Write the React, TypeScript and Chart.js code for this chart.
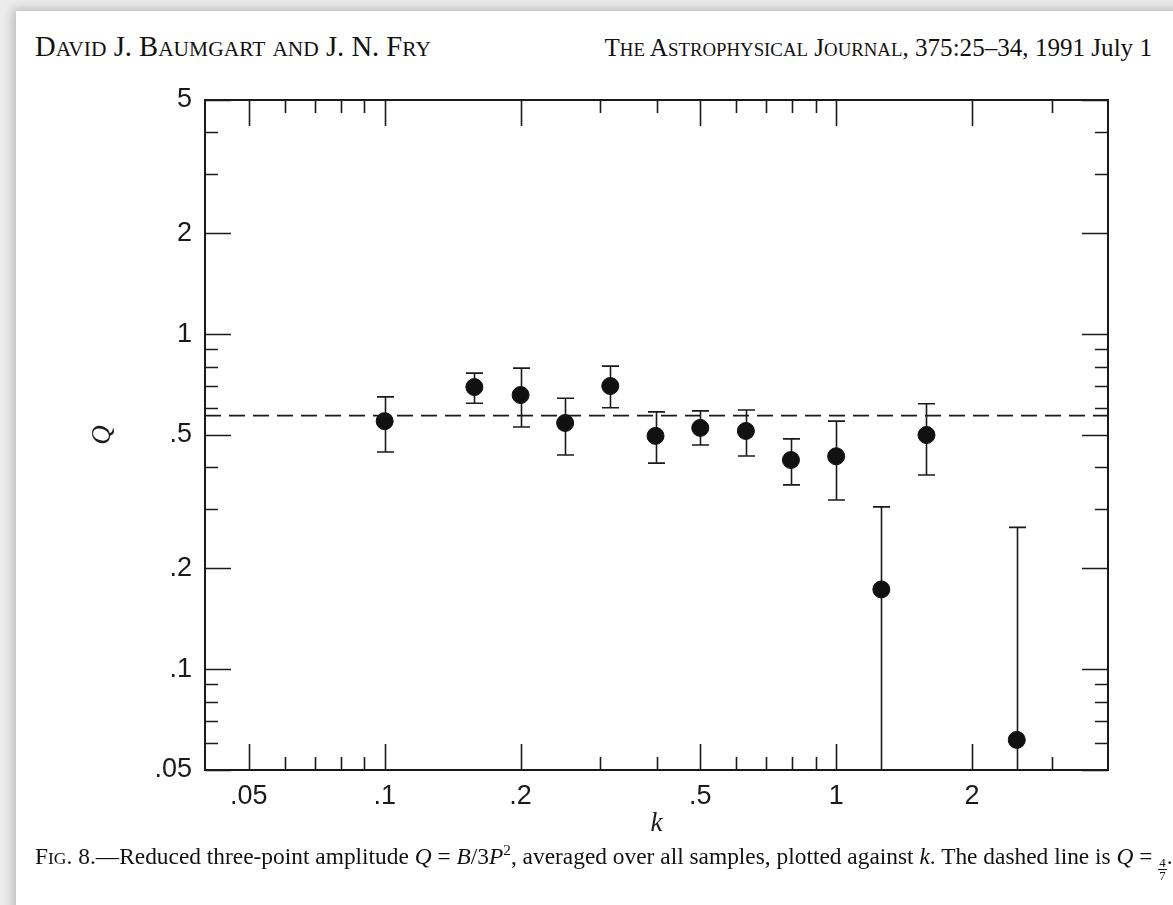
import React, { useEffect, useRef } from 'react';
import { Chart, registerables } from 'chart.js';

Chart.register(...registerables);

// ---- data ----
const kValues = [0.1, 0.158, 0.2, 0.251, 0.316, 0.398, 0.5, 0.631, 0.794, 1.0, 1.259, 1.585, 2.512];
const qValues = [0.55, 0.695, 0.658, 0.543, 0.7, 0.497, 0.525, 0.514, 0.421, 0.432, 0.173, 0.5, 0.0615];
const qUpper = [0.65, 0.765, 0.792, 0.644, 0.803, 0.586, 0.59, 0.594, 0.487, 0.55, 0.305, 0.62, 0.265];
const qLower = [0.445, 0.622, 0.528, 0.436, 0.603, 0.412, 0.467, 0.433, 0.355, 0.32, 0.041, 0.38, 0.01];
const qReference = 4 / 7;

const xTickValues = [0.05, 0.06, 0.07, 0.08, 0.09, 0.1, 0.2, 0.3, 0.4, 0.5, 0.6, 0.7, 0.8, 0.9, 1, 2, 3];
const xTickLabels = ['.05', '', '', '', '', '.1', '.2', '', '', '.5', '', '', '', '', '1', '2', ''];
const yTickValues = [0.05, 0.06, 0.07, 0.08, 0.09, 0.1, 0.2, 0.3, 0.4, 0.5, 0.6, 0.7, 0.8, 0.9, 1, 2, 3, 4, 5];
const yTickLabels = ['.05', '', '', '', '', '.1', '.2', '', '', '.5', '', '', '', '', '1', '2', '', '', '5'];
const xRange = [0.04, 4];
const yRange = [0.05, 5];

const INK = '#1a1a1a';
const TICK_FONT = { family: '"Liberation Sans", Arial, sans-serif', size: 27 };

const framePlugin = {
  id: 'frameTicks',
  afterDraw(chart: any) {
    const { ctx, chartArea: a, scales } = chart;
    const xs = scales.x;
    const ys = scales.y;
    ctx.save();
    ctx.strokeStyle = INK;
    ctx.lineWidth = 1.6;
    ctx.beginPath();
    xs.ticks.forEach((t: any, i: number) => {
      const px = Math.round(xs.getPixelForValue(t.value)) + 0.5;
      const len = xTickLabels[i] !== '' ? 26 : 13;
      ctx.moveTo(px, a.bottom);
      ctx.lineTo(px, a.bottom - len);
      ctx.moveTo(px, a.top);
      ctx.lineTo(px, a.top + len);
    });
    ys.ticks.forEach((t: any, i: number) => {
      const py = Math.round(ys.getPixelForValue(t.value)) + 0.5;
      const len = yTickLabels[i] !== '' ? 26 : 13;
      ctx.moveTo(a.left, py);
      ctx.lineTo(a.left + len, py);
      ctx.moveTo(a.right, py);
      ctx.lineTo(a.right - len, py);
    });
    ctx.stroke();
    ctx.lineWidth = 2;
    ctx.strokeRect(a.left, a.top, a.right - a.left, a.bottom - a.top);
    ctx.restore();
  },
};

const errorBarPlugin = {
  id: 'errorBars',
  beforeDatasetsDraw(chart: any) {
    const { ctx, chartArea: a, scales } = chart;
    const xs = scales.x;
    const ys = scales.y;
    ctx.save();
    ctx.beginPath();
    ctx.rect(a.left, a.top, a.right - a.left, a.bottom - a.top);
    ctx.clip();
    ctx.strokeStyle = INK;
    ctx.lineWidth = 1.6;
    const cap = 8.5;
    kValues.forEach((k, i) => {
      const px = Math.round(xs.getPixelForValue(k)) + 0.5;
      const top = ys.getPixelForValue(qUpper[i]);
      const bot = ys.getPixelForValue(qLower[i]);
      ctx.beginPath();
      ctx.moveTo(px, top);
      ctx.lineTo(px, bot);
      ctx.moveTo(px - cap, top);
      ctx.lineTo(px + cap, top);
      ctx.moveTo(px - cap, bot);
      ctx.lineTo(px + cap, bot);
      ctx.stroke();
    });
    ctx.restore();
  },
};

function QChart() {
  const ref = useRef<HTMLCanvasElement | null>(null);
  useEffect(() => {
    if (!ref.current) return;
    const chart = new Chart(ref.current, {
      type: 'scatter',
      data: {
        datasets: [
          {
            type: 'line',
            data: [
              { x: xRange[0], y: qReference },
              { x: xRange[1], y: qReference },
            ],
            borderColor: INK,
            borderWidth: 1.8,
            borderDash: [16, 8],
            pointRadius: 0,
            fill: false,
          } as any,
          {
            type: 'scatter',
            data: kValues.map((k, i) => ({ x: k, y: qValues[i] })),
            pointRadius: 8.5,
            pointBackgroundColor: '#111',
            pointBorderColor: '#111',
            pointBorderWidth: 1,
          } as any,
        ],
      },
      options: {
        responsive: false,
        animation: false,
        devicePixelRatio: 1,
        layout: { padding: { left: 65, right: 65, top: 100, bottom: 65 } },
        plugins: { legend: { display: false }, tooltip: { enabled: false } },
        scales: {
          x: {
            type: 'logarithmic',
            position: 'bottom',
            min: xRange[0],
            max: xRange[1],
            afterBuildTicks: (s: any) => {
              s.ticks = xTickValues.map((v) => ({ value: v }));
            },
            afterFit: (s: any) => {
              s.height = 70;
            },
            grid: { display: false, drawTicks: false },
            border: { display: false },
            ticks: {
              autoSkip: false,
              maxRotation: 0,
              padding: 10,
              color: '#1a1a1a',
              font: TICK_FONT,
              callback: (_v: any, i: number) => xTickLabels[i],
            },
            title: {
              display: true,
              text: 'k',
              color: INK,
              font: { family: '"Liberation Serif", serif', style: 'italic', size: 27 },
              padding: { top: 0, bottom: 0 },
            },
          },
          y: {
            type: 'logarithmic',
            position: 'left',
            min: yRange[0],
            max: yRange[1],
            afterBuildTicks: (s: any) => {
              s.ticks = yTickValues.map((v) => ({ value: v }));
            },
            afterFit: (s: any) => {
              s.width = 140;
            },
            grid: { display: false, drawTicks: false },
            border: { display: false },
            ticks: {
              autoSkip: false,
              padding: 13,
              color: '#1a1a1a',
              font: TICK_FONT,
              callback: (_v: any, i: number) => yTickLabels[i],
            },
            title: {
              display: true,
              text: 'Q',
              color: INK,
              font: { family: '"Liberation Serif", serif', style: 'italic', size: 27 },
              padding: { top: 22, bottom: 0 },
            },
          },
        },
      } as any,
      plugins: [errorBarPlugin, framePlugin],
    });
    return () => chart.destroy();
  }, []);
  return (
    <canvas
      ref={ref}
      width={1173}
      height={905}
      style={{ position: 'absolute', left: 0, top: 0, width: 1173, height: 905 }}
    />
  );
}

// Small caps: lowercase letters drawn as reduced capitals
function SC({ text, r = 0.75 }: { text: string; r?: number }) {
  const parts: { s: string; small: boolean }[] = [];
  for (const ch of text) {
    const small = ch >= 'a' && ch <= 'z';
    const last = parts[parts.length - 1];
    if (last && last.small === small) last.s += ch;
    else parts.push({ s: ch, small });
  }
  return (
    <>
      {parts.map((p, i) =>
        p.small ? (
          <span key={i} style={{ fontSize: `${r}em` }}>
            {p.s.toUpperCase()}
          </span>
        ) : (
          <span key={i}>{p.s}</span>
        )
      )}
    </>
  );
}

export default function App() {
  const serif = '"Liberation Serif", "Times New Roman", serif';
  return (
    <div
      style={{
        position: 'absolute',
        left: 0,
        top: 0,
        width: 1173,
        height: 905,
        overflow: 'hidden',
        background: '#ececec',
      }}
    >
      <div
        style={{
          position: 'absolute',
          left: 16,
          top: 11,
          width: 1220,
          height: 960,
          background: '#fff',
          boxShadow: '-3px -2px 10px rgba(0,0,0,0.22)',
        }}
      />
      <div
        style={{
          position: 'absolute',
          left: 35,
          top: 33,
          fontFamily: serif,
          fontSize: 28.6,
          lineHeight: 1,
          color: '#111',
          whiteSpace: 'nowrap',
        }}
      >
        <SC text="David J. Baumgart and J. N. Fry" />
      </div>
      <div
        style={{
          position: 'absolute',
          right: 21,
          top: 35,
          fontFamily: serif,
          fontSize: 25.1,
          lineHeight: 1,
          color: '#111',
          whiteSpace: 'nowrap',
        }}
      >
        <SC text="The Astrophysical Journal" />, 375:25–34, 1991 July 1
      </div>
      <QChart />
      <div
        style={{
          position: 'absolute',
          left: 35,
          top: 845,
          fontFamily: serif,
          fontSize: 23.4,
          lineHeight: 1,
          color: '#111',
          whiteSpace: 'nowrap',
        }}
      >
        <SC text="Fig." /> 8.—Reduced three-point amplitude <i>Q</i> = <i>B</i>/3
        <i>P</i>
        <sup style={{ fontSize: '0.65em', lineHeight: 0 }}>2</sup>, averaged over all samples, plotted against <i>k</i>.
        The dashed line is <i>Q</i> ={' '}
        <span
          style={{
            display: 'inline-flex',
            flexDirection: 'column',
            alignItems: 'center',
            verticalAlign: '-0.2em',
            fontSize: '0.55em',
            lineHeight: 1,
          }}
        >
          <span style={{ borderBottom: '1px solid #111', padding: '0 1px' }}>4</span>
          <span>7</span>
        </span>
        .
      </div>
    </div>
  );
}
